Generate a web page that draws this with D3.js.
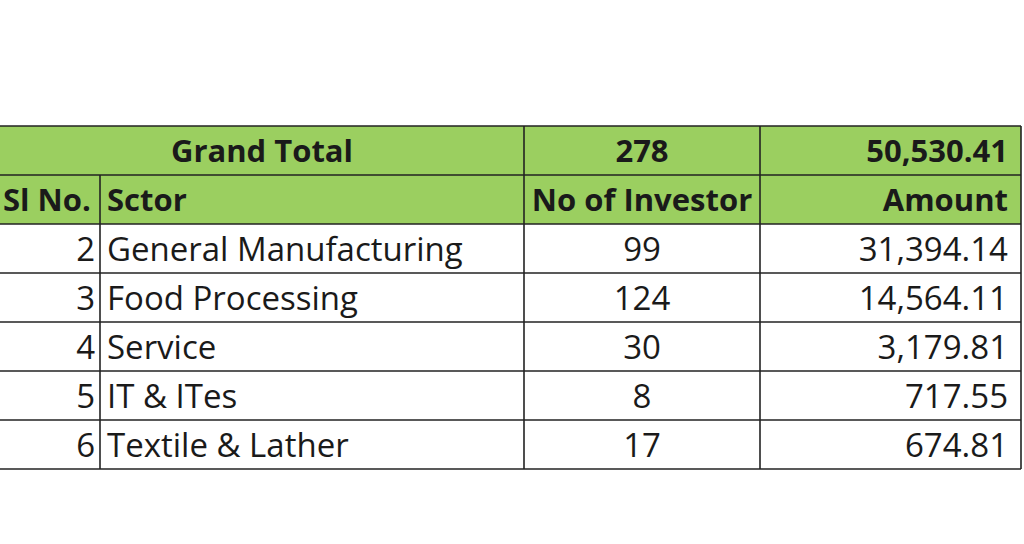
<!DOCTYPE html>
<html><head><meta charset="utf-8">
<script src="https://cdn.jsdelivr.net/npm/d3@7"></script>
<style>html,body{margin:0;padding:0;background:#fff;}svg{display:block;}</style>
</head><body>
<svg id="c" width="1024" height="544"></svg>
<script>
const slNo = [2, 3, 4, 5, 6];
const sectors = ["General Manufacturing", "Food Processing", "Service", "IT & ITes", "Textile & Lather"];
const investors = [99, 124, 30, 8, 17];
const amounts = [31394.14, 14564.11, 3179.81, 717.55, 674.81];
const totalInvestors = 278;
const totalAmount = 50530.41;
const headers = ["Sl No.", "Sctor", "No of Investor", "Amount"];

const svg = d3.select("#c");
const font = "'Open Sans', 'Noto Sans', sans-serif";
const colEdges = [0, 100, 524, 760, 1021];
const rowKeys = ["total", "header"].concat(sectors);
const y = d3.scaleBand().domain(rowKeys).range([126, 469]).padding(0);
const green = "#9bcf60";
const fmt = d3.format(",.2f");

svg.append("rect").attr("x", 0).attr("y", y("total")).attr("width", colEdges[4]).attr("height", y.bandwidth() * 2).attr("fill", green);

const hLines = d3.range(rowKeys.length + 1).map(i => 126 + i * y.bandwidth());
svg.selectAll("line.h").data(hLines).join("line")
  .attr("x1", 0).attr("x2", colEdges[4]).attr("y1", d => d).attr("y2", d => d)
  .attr("stroke", "#222").attr("stroke-width", 1.6);
const vSegs = [
  {x: colEdges[1], y1: y("header"), y2: 469},
  {x: colEdges[2], y1: 126, y2: 469},
  {x: colEdges[3], y1: 126, y2: 469},
  {x: colEdges[4], y1: 126, y2: 469}
];
svg.selectAll("line.v").data(vSegs).join("line")
  .attr("x1", d => d.x).attr("x2", d => d.x).attr("y1", d => d.y1).attr("y2", d => d.y2)
  .attr("stroke", "#222").attr("stroke-width", 1.6);

function txt(t, x, row, anchor, bold) {
  svg.append("text").attr("x", x).attr("y", y(row) + y.bandwidth() / 2)
    .attr("dy", "0.38em").attr("text-anchor", anchor)
    .attr("font-family", font).attr("font-size", bold ? 31 : 33)
    .attr("font-weight", bold ? 700 : 400).attr("fill", "#1a1a1a").text(t);
}
txt("Grand Total", (colEdges[0] + colEdges[2]) / 2, "total", "middle", true);
txt(totalInvestors, (colEdges[2] + colEdges[3]) / 2, "total", "middle", true);
txt(fmt(totalAmount), colEdges[4] - 13, "total", "end", true);
txt(headers[0], 3, "header", "start", true);
txt(headers[1], colEdges[1] + 7, "header", "start", true);
txt(headers[2], (colEdges[2] + colEdges[3]) / 2, "header", "middle", true);
txt(headers[3], colEdges[4] - 13, "header", "end", true);

sectors.forEach((s, i) => {
  txt(slNo[i], colEdges[1] - 5, s, "end", false);
  txt(s, colEdges[1] + 7, s, "start", false);
  txt(investors[i], (colEdges[2] + colEdges[3]) / 2, s, "middle", false);
  txt(fmt(amounts[i]), colEdges[4] - 13, s, "end", false);
});
</script>
</body></html>
